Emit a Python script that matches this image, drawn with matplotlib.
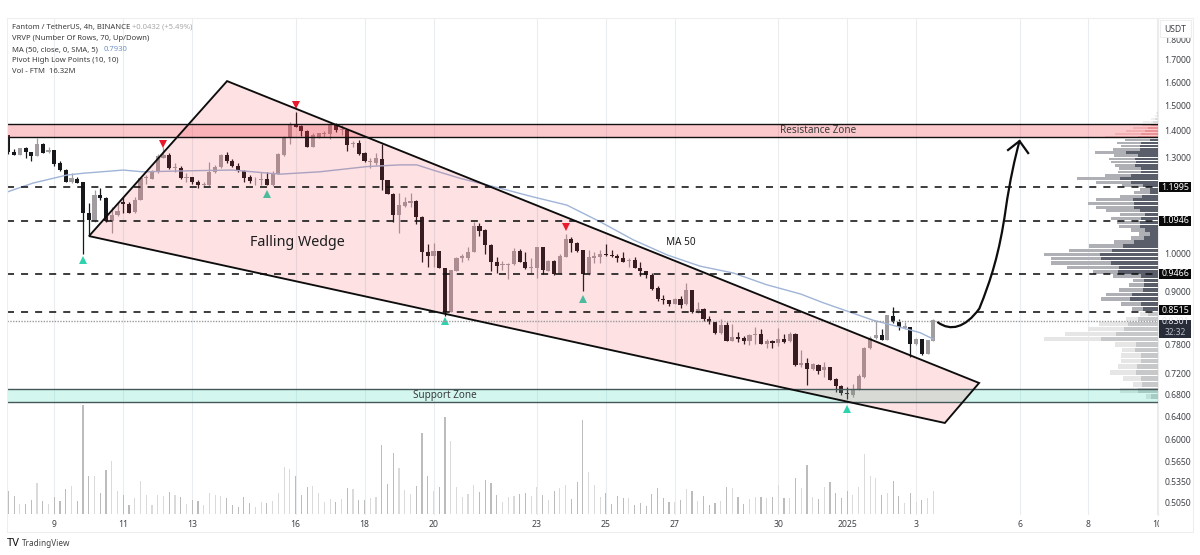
import numpy as np
import matplotlib
matplotlib.use("Agg")
import matplotlib.pyplot as plt
from matplotlib.patches import Polygon, Rectangle, PathPatch
from matplotlib.path import Path
from matplotlib.transforms import IdentityTransform

plt.rcParams['font.family'] = ['Noto Sans', 'DejaVu Sans']

# ---------- data ----------
first_bar = -8   # bars are numbered from the "9" date tick, six bars a day
directions = ("DDUDDUDU" "DDDUDDDUDD" "UUDDUUUUUU" "DUDUDDUUUU" "DDDDDUUDUU" "UUDDDUUUUD"
              "UDUDDUUDDD" "UUUDDDUDDU" "UUUUDDDDUU" "UDDUUDUDUU" "DDDUUUDDDD" "UDDDDDDDUD"
              "UDUDDDUDUD" "DUUDUDUDUD" "UDUDUDDDDU" "UUUUDUDDUD" "UDUU")
body_top = [
 1.384,1.322,1.334,1.334,1.320,1.351,1.350,1.327,
 1.327,1.281,1.258,1.229,1.227,1.216,1.118,1.174,1.173,1.165,
 1.111,1.125,1.152,1.144,1.158,1.229,1.234,1.251,1.307,1.311,
 1.310,1.266,1.265,1.234,1.232,1.217,1.210,1.251,1.266,1.311,
 1.311,1.289,1.272,1.255,1.232,1.224,1.225,1.227,1.248,1.312,
 1.375,1.426,1.427,1.417,1.400,1.384,1.390,1.392,1.425,1.423,
 1.407,1.403,1.352,1.352,1.317,1.289,1.298,1.297,1.222,1.178,
 1.141,1.152,1.155,1.156,1.106,1.003,1.006,1.006,0.962,0.955,
 0.989,0.993,1.004,1.078,1.078,1.066,1.025,0.978,0.971,0.972,
 1.006,1.007,0.978,0.964,1.018,1.018,0.981,0.980,0.993,1.041,
 1.040,1.030,1.009,0.991,0.993,0.999,0.998,0.996,0.994,0.988,
 0.983,0.983,0.962,0.952,0.944,0.909,0.883,0.880,0.883,0.882,
 0.905,0.905,0.860,0.860,0.836,0.828,0.823,0.823,0.796,0.796,
 0.794,0.800,0.803,0.803,0.787,0.787,0.791,0.791,0.802,0.802,
 0.740,0.740,0.738,0.737,0.732,0.732,0.710,0.695,0.683,0.688,
 0.714,0.773,0.794,0.800,0.801,0.844,0.842,0.828,0.819,0.817,
 0.792,0.791,0.789,0.833]
body_bottom = [
 1.322,1.311,1.311,1.321,1.308,1.308,1.317,1.322,
 1.279,1.258,1.217,1.217,1.214,1.118,1.096,1.093,1.165,1.092,
 1.092,1.111,1.145,1.118,1.120,1.158,1.230,1.227,1.250,1.300,
 1.263,1.263,1.229,1.231,1.216,1.206,1.207,1.206,1.250,1.268,
 1.288,1.272,1.256,1.231,1.220,1.222,1.222,1.206,1.206,1.244,
 1.310,1.371,1.415,1.400,1.340,1.340,1.377,1.387,1.387,1.403,
 1.403,1.346,1.349,1.314,1.287,1.285,1.282,1.222,1.178,1.112,
 1.111,1.139,1.149,1.106,1.003,0.993,0.993,0.962,0.851,0.853,
 0.954,0.989,0.989,1.004,1.065,1.024,0.978,0.967,0.969,0.969,
 0.971,0.977,0.961,0.961,0.962,0.955,0.954,0.945,0.946,0.991,
 1.029,1.007,0.946,0.946,0.989,0.991,0.996,0.993,0.989,0.978,
 0.980,0.961,0.952,0.943,0.908,0.883,0.880,0.872,0.872,0.869,
 0.870,0.851,0.851,0.835,0.828,0.805,0.805,0.787,0.787,0.792,
 0.786,0.787,0.801,0.781,0.781,0.782,0.782,0.785,0.786,0.737,
 0.737,0.729,0.728,0.725,0.726,0.708,0.695,0.682,0.680,0.678,
 0.689,0.713,0.771,0.794,0.790,0.790,0.828,0.817,0.816,0.780,
 0.780,0.759,0.760,0.787]
wick_high = [
 1.384,1.330,1.336,1.340,1.322,1.371,1.354,1.340,
 1.329,1.288,1.261,1.246,1.234,1.218,1.147,1.190,1.196,1.168,
 1.137,1.147,1.168,1.153,1.168,1.234,1.240,1.257,1.314,1.340,
 1.316,1.281,1.272,1.246,1.234,1.223,1.218,1.285,1.275,1.314,
 1.322,1.294,1.281,1.257,1.240,1.234,1.251,1.251,1.255,1.316,
 1.380,1.435,1.475,1.422,1.403,1.390,1.393,1.399,1.429,1.429,
 1.422,1.406,1.362,1.365,1.322,1.298,1.316,1.349,1.223,1.181,
 1.180,1.168,1.180,1.158,1.107,1.027,1.030,1.008,0.962,0.956,
 0.991,1.000,1.019,1.091,1.086,1.071,1.027,0.991,0.981,0.974,
 1.015,1.012,1.005,0.987,1.019,1.019,0.983,0.983,1.000,1.055,
 1.046,1.033,1.010,1.010,1.005,1.010,1.027,1.010,1.000,1.004,
 0.989,0.990,0.978,0.954,0.948,0.914,0.893,0.881,0.885,0.889,
 0.923,0.906,0.876,0.861,0.842,0.829,0.835,0.829,0.824,0.807,
 0.798,0.803,0.817,0.814,0.791,0.789,0.815,0.802,0.807,0.804,
 0.767,0.752,0.741,0.739,0.742,0.733,0.711,0.697,0.693,0.700,
 0.719,0.774,0.797,0.831,0.814,0.846,0.864,0.835,0.829,0.818,
 0.794,0.792,0.790,0.835]
wick_low = [
 1.315,1.309,1.311,1.300,1.290,1.308,1.316,1.316,
 1.272,1.255,1.216,1.214,1.213,1.000,1.052,1.091,1.158,1.090,
 1.057,1.107,1.117,1.117,1.117,1.158,1.210,1.225,1.248,1.298,
 1.260,1.251,1.227,1.218,1.210,1.196,1.201,1.204,1.246,1.263,
 1.281,1.269,1.251,1.216,1.212,1.207,1.207,1.205,1.204,1.242,
 1.308,1.350,1.413,1.380,1.338,1.338,1.371,1.377,1.368,1.397,
 1.384,1.325,1.340,1.310,1.285,1.263,1.275,1.190,1.177,1.091,
 1.057,1.135,1.135,1.083,0.978,0.964,0.964,0.960,0.842,0.851,
 0.952,0.976,0.983,1.003,1.050,1.000,0.952,0.948,0.956,0.933,
 0.969,0.976,0.959,0.948,0.935,0.945,0.952,0.943,0.945,0.990,
 1.003,1.005,0.903,0.943,0.974,0.974,0.994,0.991,0.978,0.976,
 0.964,0.960,0.941,0.936,0.906,0.877,0.872,0.866,0.870,0.862,
 0.868,0.849,0.849,0.831,0.824,0.803,0.803,0.786,0.786,0.784,
 0.780,0.778,0.780,0.780,0.773,0.771,0.776,0.782,0.784,0.735,
 0.732,0.698,0.726,0.719,0.713,0.707,0.685,0.678,0.671,0.675,
 0.688,0.711,0.770,0.792,0.789,0.789,0.826,0.810,0.813,0.754,
 0.778,0.757,0.759,0.786]
volumes = [
 17.5,13.5,7.75,7.25,10.5,23.5,10,7.5,
 13,10,18.5,21.25,9.75,82,28.5,28.5,16,33,
 40,17.5,14.25,6.75,12.25,24.75,14.25,6.5,14.25,13.5,
 16.75,14.25,13,7.5,10.5,10,6.5,15.75,14.25,13.5,
 11.75,6.5,5,12.5,8.5,5,8.75,8.5,9.75,15.5,
 35.5,33.75,28.5,14.25,20.5,21,15.5,8.75,11,9.25,
 11.5,19.5,18.5,10.5,10.5,11.75,13,51.75,22.5,45.5,
 34.75,18,15,21,60.5,28.5,17.5,20.5,72.5,55,
 20.5,13,15,21.5,16.75,25.5,23,14.25,9.25,12.5,
 13.75,15,15.5,13.5,20.5,14,10.5,17.5,19.5,21.75,
 11,24.25,70.5,31.75,21.75,13,16,7.5,13.5,11.75,
 11.75,6.75,8.5,6,14.75,19.5,11.75,9.25,9.25,10.5,
 18.5,17,9.5,13.5,6.5,8.5,9.75,20.5,19.75,13,
 7.5,11,12.5,12.5,12,13,21.75,11.75,12,26.75,
 19.75,36.5,12.5,11,20.5,24.25,15.5,11.75,17.25,14.25,
 20.5,45,28.75,26.75,14.25,16,24.75,13.5,8,15.5,
 9.25,10.5,12,17.25]

ma_bars = [-8,-3.7,2.2,5,12,15.4,24.8,31,39.3,46.2,54.4,60.2,63.1,65.9,70.6,77.6,83.3,89.2,95,
           100.8,106.7,112.4,118.2,124,129.9,133.8,138,142.5,146.7,150.7,153]
ma_values = [1.185,1.213,1.240,1.246,1.257,1.251,1.255,1.257,1.243,1.251,1.269,1.275,1.275,1.257,
             1.229,1.196,1.168,1.142,1.091,1.038,0.996,0.966,0.948,0.918,0.895,0.874,0.854,0.833,
             0.819,0.805,0.791]

pivot_low_bars = [5, 37, 68, 92, 138]
pivot_low_marks = [0.983, 1.177, 0.831, 0.884, 0.654]
pivot_high_bars = [19, 42, 89]
pivot_high_marks = [1.350, 1.502, 1.074]

# volume profile, 70 equal price rows from the bottom
vrvp_first_price = 0.671
vrvp_row_step = 0.01149
vrvp_total = [35,115,75,105,145,120,112,110,108,130,342,280,210,177,95,55,77,112,172,155,
              117,87,75,135,195,272,320,320,342,267,207,133,82,57,82,117,123,142,113,157,
              185,210,187,115,73,55,107,187,242,160,120,117,130,140,147,133,189,135,110,122,
              100,160,130,95,75,47,45,20,10,5]
vrvp_dark = [20,60,48,50,65,62,50,50,70,65,172,125,103,90,60,30,45,50,85,78,
             45,42,42,50,120,118,142,170,175,138,105,72,43,25,40,55,55,50,40,55,
             72,73,75,48,25,25,45,82,115,80,52,52,68,65,70,60,97,55,55,50,
             25,60,50,40,30,20,15,8,4,2]

resistance_zone = (1.378, 1.428)
support_zone = (0.6653, 0.689)
key_levels = [1.1995, 1.0946, 0.9466, 0.8515]
key_label_prices = [1.1995, 1.0946, 0.9466, 0.8565]
last_price = 0.8301
countdown_label_price = 0.8045

wedge_bars = [6.04, 30.07, 160.96, 155.0]
wedge_prices = [1.049, 1.604, 0.7014, 0.6286]
forecast_bars = [153.8, 156, 158.5, 161, 163, 164.5, 165.6, 166.3, 167.2, 168]
forecast_prices = [0.828, 0.808, 0.815, 0.860, 0.930, 1.000, 1.130, 1.220, 1.300, 1.361]
arrow_head_bars = [166, 168, 169.5]
arrow_head_prices = [1.328, 1.361, 1.317]

price_ticks = [1.8,1.7,1.6,1.5,1.4,1.3,1.0,0.9,0.78,0.72,0.68,0.64,0.6,0.565,0.535,0.505]
price_tick_labels = ['1.8000','1.7000','1.6000','1.5000','1.4000','1.3000','1.0000','0.9000',
                     '0.7800','0.7200','0.6800','0.6400','0.6000','0.5650','0.5350','0.5050']
date_bars = [0,12,24,42,54,66,84,96,108,126,138,150,168,180,192]
date_labels = ['9','11','13','16','18','20','23','25','27','30','2025','3','6','8','10']

# ---------- layout ----------
W, H = 1200, 555
PL, PR, PT, PB = 6.5, 1158.0, 18.0, 515.0
BASE = 514.0
XLIM = (-8.32, 192.1)
YLIM = (0.4885, 1.9067)
fig = plt.figure(figsize=(W/100, H/100), dpi=100, facecolor='white')
rect = [PL/W, 1-PB/H, (PR-PL)/W, (PB-PT)/H]

TXT = '#3f4248'
ax_bg = fig.add_axes(rect, zorder=1)
ax_bg.set_xlim(*XLIM); ax_bg.set_yscale('log'); ax_bg.set_ylim(*YLIM)
ax_bg.minorticks_off()
ax_bg.set_xticks(date_bars); ax_bg.set_xticklabels(date_labels, fontsize=6.2, color=TXT)
for lbl, txt in zip(ax_bg.get_xticklabels(), date_labels):
    if txt == '2025':
        lbl.set_fontweight('bold')
ax_bg.tick_params(axis='x', length=0, pad=3.5)
ax_bg.set_yticks(price_ticks); ax_bg.set_yticklabels(price_tick_labels, fontsize=6.2, color=TXT)
ax_bg.yaxis.tick_right()
ax_bg.yaxis.set_minor_locator(matplotlib.ticker.NullLocator())
ax_bg.tick_params(axis='y', length=0, pad=4.5)
ax_bg.grid(axis='x', color='#e9edf0', lw=0.8)
for s in ax_bg.spines.values():
    s.set_visible(False)
ax_bg.spines['right'].set_visible(True); ax_bg.spines['right'].set_color('#ececec')

# volume profile
ax_vp = fig.add_axes(rect, zorder=2)
ax_vp.patch.set_visible(False); ax_vp.axis('off')
ax_vp.set_yscale('log'); ax_vp.set_ylim(*YLIM)
ax_vp.set_xlim((PR-PL)*3, 0)
for i, (tot, dk) in enumerate(zip(vrvp_total, vrvp_dark)):
    y0 = vrvp_first_price + vrvp_row_step*i
    if i <= 15:
        c_dk, c_lt = '#c6c8ca', '#e6e6e6'
    elif i <= 60:
        c_dk, c_lt = '#595e6a', '#aeb0b6'
    elif i <= 65:
        c_dk, c_lt = '#e6b4b4', '#f6dcdc'
    else:
        c_dk, c_lt = '#dcdcdc', '#f0f0f0'
    ax_vp.barh(y0, dk, height=vrvp_row_step*0.82, align='edge', color=c_dk, lw=0)
    ax_vp.barh(y0, tot-dk, left=dk, height=vrvp_row_step*0.82, align='edge', color=c_lt, lw=0)

# volume
n = len(volumes)
bars = np.arange(first_bar, first_bar+n)
up = np.array([d == 'U' for d in directions])
vol_h = 125.0
ax_vol = fig.add_axes([PL/W, 1-BASE/H, (PR-PL)/W, vol_h/H], zorder=3)
ax_vol.patch.set_visible(False); ax_vol.axis('off')
ax_vol.set_xlim(*XLIM); ax_vol.set_ylim(0, vol_h/(4/3))
vols = np.array(volumes, float)
ax_vol.bar(bars[up], vols[up], width=0.2, color='#dadada', lw=0)
ax_vol.bar(bars[~up], vols[~up], width=0.2, color='#bcbcbc', lw=0)

# main chart
ax = fig.add_axes(rect, zorder=4)
ax.patch.set_visible(False); ax.axis('off')
ax.set_xlim(*XLIM); ax.set_yscale('log'); ax.set_ylim(*YLIM)

tops = np.array(body_top); bots = np.array(body_bottom)
his = np.array(wick_high); los = np.array(wick_low)
UPC, DNC = '#a29da0', '#17181c'
ax.vlines(bars[up], los[up], his[up], color=UPC, lw=0.9, zorder=3)
ax.vlines(bars[~up], los[~up], his[~up], color=DNC, lw=0.9, zorder=3)
ax.bar(bars[up], tops[up]-bots[up], bottom=bots[up], width=0.72, color=UPC, lw=0, zorder=4)
ax.bar(bars[~up], tops[~up]-bots[~up], bottom=bots[~up], width=0.72, color=DNC, lw=0, zorder=4)

ax.plot(ma_bars, ma_values, color='#9fb4d6', lw=1.0, zorder=5)
ax.plot(pivot_low_bars, pivot_low_marks, ls='', marker='^', ms=5.5, color='#2ed3ad', mew=0, zorder=6)
ax.plot(pivot_high_bars, pivot_high_marks, ls='', marker='v', ms=5.5, color='#e8172c', mew=0, zorder=6)

# zones
for (lo, hi), fill, edge in ((resistance_zone, '#f23645', '#111111'),
                             (support_zone, '#26d9b0', '#44585a')):
    ax.axhspan(lo, hi, facecolor=fill, alpha=0.27 if fill == '#f23645' else 0.2, lw=0, zorder=7)
    ax.axhline(lo, color=edge, lw=1.0, zorder=8)
    ax.axhline(hi, color=edge, lw=1.0, zorder=8)
ax.text(133, np.sqrt(resistance_zone[0]*resistance_zone[1]), 'Resistance Zone', fontsize=7.2,
        color='#3a3a3a', ha='center', va='center', zorder=12)
ax.text(68, np.sqrt(support_zone[0]*support_zone[1]), 'Support Zone', fontsize=7.2,
        color='#3a3a3a', ha='center', va='center', zorder=12)

# wedge
wedge_pts = list(zip(wedge_bars, wedge_prices))
ax.add_patch(Polygon(wedge_pts, closed=True, facecolor='#f23645', alpha=0.15, lw=0, zorder=7))
ax.add_patch(Polygon(wedge_pts, closed=True, fill=False, edgecolor='#0d0d0d', lw=1.35,
                     joinstyle='miter', zorder=9))
ax.text(42.3, 1.031, 'Falling Wedge', fontsize=10.3, fontweight='bold', color='#1c1c1c',
        ha='center', va='center', zorder=12)
ax.text(109, 1.031, 'MA 50', fontsize=7.2, fontweight='bold', color='#1c1c1c',
        ha='center', va='center', zorder=12)

# levels
for lv in key_levels:
    ax.axhline(lv, color='#111111', lw=1.15, dashes=(4.4, 4.4), zorder=8)
ax.axhline(last_price, color='#9a9a9a', lw=1.0, ls=(0, (1, 1)), zorder=8)

# forecast arrow (cubic Bezier runs, start + 3 points each)
codes = [Path.MOVETO] + [Path.CURVE4]*9
ax.add_patch(PathPatch(Path(list(zip(forecast_bars, forecast_prices)), codes), fill=False,
                       edgecolor='#0d0d0d', lw=1.6, zorder=10, capstyle='round'))
ax.plot(arrow_head_bars, arrow_head_prices, color='#0d0d0d', lw=1.6, zorder=10, solid_joinstyle='miter')

# price axis boxes
box_ax = fig.add_axes(rect, zorder=6)
box_ax.patch.set_visible(False); box_ax.axis('off')
box_ax.set_yscale('log'); box_ax.set_ylim(*YLIM)
box_cx = 1 + 17.5/(PR-PL)
box_tr = box_ax.get_yaxis_transform()

def price_box(price, h, color):
    yd = ax.transData.transform((0, price))[1]
    box_ax.add_patch(Rectangle((1159, yd-h/2), 32, h, transform=IdentityTransform(),
                               fc=color, ec='none', clip_on=False, zorder=1))

for lv, lab in zip(key_levels, key_label_prices):
    price_box(lab, 10, '#0a0a0a')
    box_ax.text(box_cx, lab, f'{lv:.4f}', transform=box_tr, fontsize=6.4, color='white',
                ha='center', va='center', clip_on=False, zorder=2)
price_box(0.8135, 18, '#272c38')
box_ax.text(box_cx, last_price, f'{last_price:.4f}', transform=box_tr, fontsize=6.4, color='#e8e8ee',
            ha='center', va='center', clip_on=False, zorder=2)
box_ax.text(box_cx, countdown_label_price, '32:32', transform=box_tr, fontsize=6.0, color='#b8bcc8',
            ha='center', va='center', clip_on=False, zorder=2)

# frame, USDT box, covers
def px_rect(x0, y0, x1, y1, **kw):
    fig.add_artist(Rectangle((x0/W, 1-y1/H), (x1-x0)/W, (y1-y0)/H, transform=fig.transFigure, **kw))
px_rect(1158.5, 516, 1192, 531, fc='white', ec='none', zorder=7)
px_rect(1160, 20, 1191, 37, fc='white', ec='#eeeeee', lw=0.8, zorder=7)
fig.text(1175.5/W, 1-29/H, 'USDT', fontsize=6.2, color=TXT, ha='center', va='center', zorder=8)
px_rect(PL, PT, 1193, 532, fc='none', ec='#eeeeee', lw=0.8, zorder=7)

# legend
rows = [('Fantom / TetherUS, 4h, BINANCE', '#3b3b3b', 27.3, 12),
        ('VRVP (Number Of Rows, 70, Up/Down)', '#3b3b3b', 38.7, 12),
        ('MA (50, close, 0, SMA, 5)', '#3b3b3b', 49.7, 12),
        ('Pivot High Low Points (10, 10)', '#3b3b3b', 60.7, 12),
        ('Vol - FTM  16.32M', '#3b3b3b', 71.7, 12),
        ('+0.0432 (+5.49%)', '#a8a8a8', 27.3, 132),
        ('0.7930', '#6f93c6', 49.7, 104)]
for txt, col, y, x in rows:
    fig.text(x/W, 1-y/H, txt, fontsize=5.5, color=col, ha='left', va='center', zorder=8)

# branding
fig.text(7/W, 1-543.5/H, 'TV', fontsize=8, fontweight='black', color='#111111', ha='left', va='center')
fig.text(22/W, 1-543.5/H, 'TradingView', fontsize=5.9, color='#444444', ha='left', va='center')

fig.savefig('out.png', dpi=100, facecolor='white')
